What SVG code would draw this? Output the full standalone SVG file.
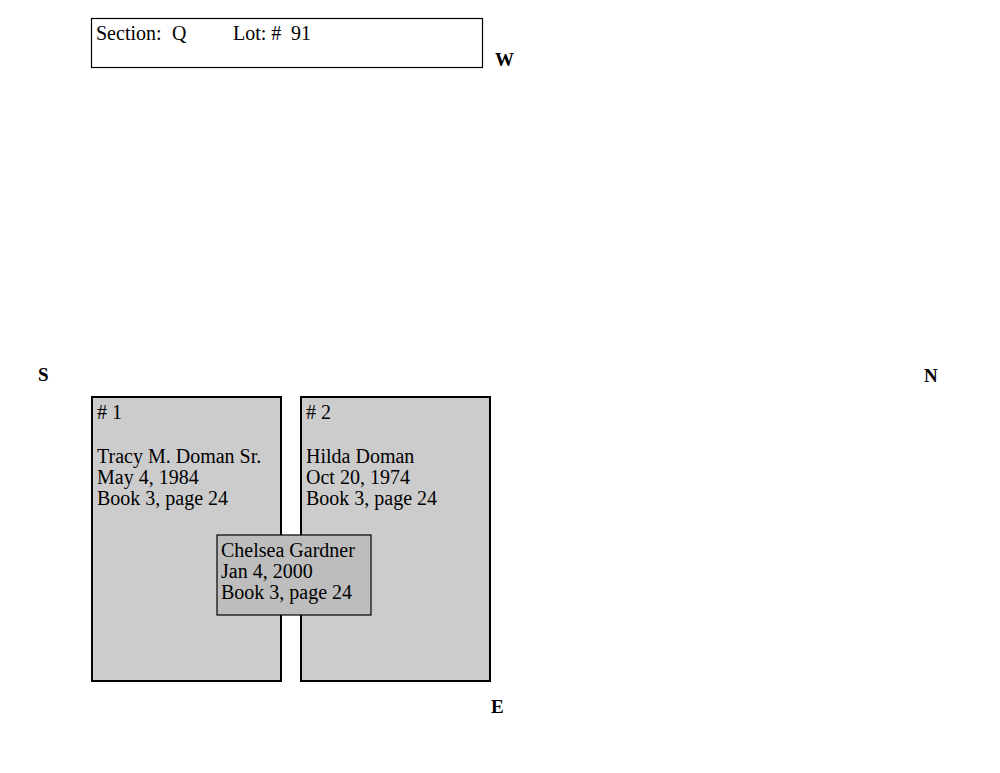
<svg xmlns="http://www.w3.org/2000/svg" width="1000" height="773" viewBox="0 0 1000 773">
<style>
text{font-family:"Liberation Serif","Times New Roman",serif;fill:#000}
.t{font-size:20px}
.d{font-size:19px;font-weight:bold}
.grave{fill:#cccccc;stroke:#000;stroke-width:2}
.small{fill:#bdbdbd;stroke:#000;stroke-width:1.2}
</style>
<rect width="1000" height="773" fill="#fff"/>
<g id="header">
<rect x="91.5" y="18.5" width="391" height="49" fill="#fff" stroke="#000" stroke-width="1.2"/>
<text class="t" x="96" y="40">Section:</text>
<text class="t" x="172" y="40">Q</text>
<text class="t" x="233" y="40">Lot: #</text>
<text class="t" x="291" y="40">91</text>
</g>
<g id="dirs">
<text class="d" x="495" y="66">W</text>
<text class="d" x="38" y="381">S</text>
<text class="d" x="924" y="382">N</text>
<text class="d" x="491" y="713">E</text>
</g>
<g id="grave1">
<rect class="grave" x="92" y="397" width="189" height="284"/>
<text class="t" x="97" y="419"># 1</text>
<text class="t" x="97" y="463">Tracy M. Doman Sr.</text>
<text class="t" x="97" y="484">May 4, 1984</text>
<text class="t" x="97" y="505">Book 3, page 24</text>
</g>
<g id="grave2">
<rect class="grave" x="301" y="397" width="189" height="284"/>
<text class="t" x="306" y="419"># 2</text>
<text class="t" x="306" y="463">Hilda Doman</text>
<text class="t" x="306" y="484">Oct 20, 1974</text>
<text class="t" x="306" y="505">Book 3, page 24</text>
</g>
<g id="grave3">
<rect class="small" x="217" y="535" width="154" height="80"/>
<text class="t" x="221" y="557">Chelsea Gardner</text>
<text class="t" x="221" y="578">Jan 4, 2000</text>
<text class="t" x="221" y="599">Book 3, page 24</text>
</g>
<g id="connectors"/>
</svg>
